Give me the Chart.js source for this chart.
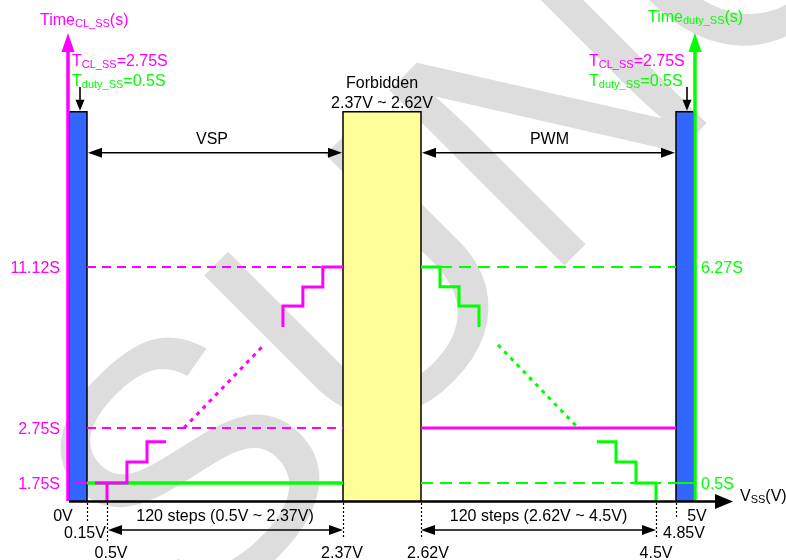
<!DOCTYPE html>
<html>
<head>
<meta charset="utf-8">
<script src="https://cdn.jsdelivr.net/npm/chart.js@4.4.1/dist/chart.umd.min.js"></script>
<style>
  html, body { margin: 0; padding: 0; background: #ffffff; }
  #wrap { width: 786px; height: 560px; }
</style>
</head>
<body>
<div id="wrap"><canvas id="c" width="786" height="560"></canvas></div>
<script>
// ---- V_SS axis (volts) ----
const vssTicks      = [0, 0.15, 0.5, 2.37, 2.62, 4.5, 4.85, 5];
const vssTickLabels = ['0V', '0.15V', '0.5V', '2.37V', '2.62V', '4.5V', '4.85V', '5V'];
const forbiddenRange = [2.37, 2.62];
const leftZone  = [0, 0.15];
const rightZone = [4.85, 5];
const zoneTop = 19;               // top of the shaded zones (Time_CL_SS units)

// ---- time levels ----
const clLevels       = [1.75, 2.75, 11.12];
const clLevelLabels  = ['1.75S', '2.75S', '11.12S'];
const dutyLevels      = [0.5, 6.27];
const dutyLevelLabels = ['0.5S', '6.27S'];
const tClSS = 2.75;
const tDutySS = 0.5;

// ---- VSP soft-start staircase (V, Time_CL_SS) ----
const vspStart     = [[0.5, 0], [0.5, 1.75]];
const vspLowSteps  = [[0.29, 1.75], [0.658, 1.75], [0.658, 2.13], [0.817, 2.13], [0.817, 2.5], [0.968, 2.5]];
const vspRise      = [[1.11, 2.75], [1.744, 7.07]];
const vspHighSteps = [[1.894, 8.0], [1.894, 9.09], [2.052, 9.09], [2.052, 10.08], [2.21, 10.08], [2.21, 11.12], [2.37, 11.12]];

// ---- PWM soft-start staircase (V, Time_duty_SS) ----
const pwmHighSteps = [[2.62, 6.27], [2.772, 6.27], [2.772, 5.74], [2.924, 5.74], [2.924, 5.23], [3.084, 5.23], [3.084, 4.67]];
const pwmFall      = [[3.236, 4.19], [3.868, 2.0]];
const pwmLowSteps  = [[4.028, 1.6], [4.18, 1.6], [4.18, 1.06], [4.34, 1.06], [4.34, 0.5], [4.5, 0.5], [4.5, 0]];

const MAGENTA = '#ff00ff';
const GREEN = '#00ff00';
const BLUE = '#3366ff';
const YELLOW = '#ffff99';
const FONT = '"Liberation Sans", Arial, Helvetica, sans-serif';

// Schematic (piecewise-linear) axes: [value, fraction of axis length]
const scaleKnots = {
  x:  [[0, 0], [0.15, 0.0288], [0.5, 0.0608], [2.37, 0.4384], [2.62, 0.5632], [4.5, 0.9392], [4.85, 0.9712], [5, 1]],
  yL: [[0, 0], [1.75, 0.0385], [2.75, 0.156], [11.12, 0.5], [23, 1]],
  yR: [[0, 0], [0.5, 0.0385], [6.27, 0.5], [12.5, 1]]
};

class PiecewiseScale extends Chart.LinearScale {
  _frac(v) {
    const k = scaleKnots[this.id];
    if (v <= k[0][0]) return k[0][1];
    for (let i = 1; i < k.length; i++) {
      if (v <= k[i][0]) {
        const [v0, f0] = k[i - 1], [v1, f1] = k[i];
        return f0 + (v - v0) / (v1 - v0) * (f1 - f0);
      }
    }
    return k[k.length - 1][1];
  }
  getPixelForValue(v) {
    const f = this._frac(v);
    return this.isHorizontal() ? this.left + f * this.width : this.bottom - f * this.height;
  }
  getValueForPixel(p) {
    const f = this.isHorizontal() ? (p - this.left) / this.width : (this.bottom - p) / this.height;
    const k = scaleKnots[this.id];
    for (let i = 1; i < k.length; i++) {
      if (f <= k[i][1]) {
        const [v0, f0] = k[i - 1], [v1, f1] = k[i];
        return v0 + (f - f0) / (f1 - f0) * (v1 - v0);
      }
    }
    return k[k.length - 1][0];
  }
}
PiecewiseScale.id = 'piecewise';
PiecewiseScale.defaults = Chart.LinearScale.defaults;
Chart.register(PiecewiseScale);

const pts = arr => arr.map(([x, y]) => ({ x, y }));
function series(data, color, axis, extra) {
  return Object.assign({
    data: pts(data), yAxisID: axis, borderColor: color, borderWidth: 3,
    pointRadius: 0, tension: 0, fill: false, clip: false, order: 1
  }, extra || {});
}
function zone(range, color) {
  return series([[range[0], 0], [range[0], zoneTop], [range[1], zoneTop], [range[1], 0]],
    '#000000', 'yL', { borderWidth: 1.5, fill: 'origin', backgroundColor: color, order: 10 });
}

const datasets = [
  zone(forbiddenRange, YELLOW),
  zone(leftZone, BLUE),
  zone(rightZone, BLUE),
  // reference levels
  series([[0.15, clLevels[2]], [2.37, clLevels[2]]], MAGENTA, 'yL', { borderWidth: 2, borderDash: [9, 6], order: 5 }),
  series([[0.15, clLevels[1]], [2.37, clLevels[1]]], MAGENTA, 'yL', { borderWidth: 2, borderDash: [9, 6], order: 5 }),
  series([[0.058, clLevels[0]], [0.15, clLevels[0]]], MAGENTA, 'yL', { borderWidth: 2, order: 5 }),
  series([[0.15, tDutySS], [2.37, tDutySS]], GREEN, 'yR', { borderWidth: 3.5, order: 4 }),
  series([[2.62, tClSS], [4.85, tClSS]], MAGENTA, 'yL', { borderWidth: 3, order: 4 }),
  series([[2.62, dutyLevels[1]], [4.85, dutyLevels[1]]], GREEN, 'yR', { borderWidth: 2, borderDash: [12, 7], order: 5 }),
  series([[2.62, dutyLevels[0]], [4.85, dutyLevels[0]]], GREEN, 'yR', { borderWidth: 2, borderDash: [12, 7], order: 5 }),
  series([[4.85, dutyLevels[0]], [5, dutyLevels[0]]], GREEN, 'yR', { borderWidth: 2, order: 5 }),
  // VSP staircase
  series(vspStart, MAGENTA, 'yL', { order: 2 }),
  series(vspLowSteps, MAGENTA, 'yL', { order: 2 }),
  series(vspRise, MAGENTA, 'yL', { borderDash: [4, 5], order: 2 }),
  series(vspHighSteps, MAGENTA, 'yL', { order: 2 }),
  // PWM staircase
  series(pwmHighSteps, GREEN, 'yR', { order: 2 }),
  series(pwmFall, GREEN, 'yR', { borderDash: [4, 5], order: 2 }),
  series(pwmLowSteps, GREEN, 'yR', { order: 2 })
];

// ---- drawing helpers ----
function head(ctx, x, y, dx, dy, len, half) {
  ctx.beginPath();
  ctx.moveTo(x, y);
  ctx.lineTo(x - dx * len - dy * half, y - dy * len + dx * half);
  ctx.lineTo(x - dx * len + dy * half, y - dy * len - dx * half);
  ctx.closePath();
  ctx.fill();
}
function hArrow(ctx, x1, x2, y, both) {
  ctx.strokeStyle = '#000'; ctx.fillStyle = '#000'; ctx.lineWidth = 1.6;
  ctx.beginPath(); ctx.moveTo(x1 + 4, y); ctx.lineTo(x2 - 4, y); ctx.stroke();
  head(ctx, x2, y, 1, 0, 14, 5);
  if (both) head(ctx, x1, y, -1, 0, 14, 5);
}
function rich(ctx, parts, x, y, color, align) {
  const main = '16px ' + FONT, sub = '11px ' + FONT;
  let w = 0;
  for (const [t, s] of parts) { ctx.font = s ? sub : main; w += ctx.measureText(t).width; }
  let cx = align === 'right' ? x - w : align === 'center' ? x - w / 2 : x;
  ctx.fillStyle = color; ctx.textAlign = 'left'; ctx.textBaseline = 'alphabetic';
  for (const [t, s] of parts) {
    ctx.font = s ? sub : main;
    ctx.fillText(t, cx, s ? y + 2 : y);
    cx += ctx.measureText(t).width;
  }
}
function text(ctx, t, x, y, color, align) { rich(ctx, [[t, false]], x, y, color, align); }

const decor = {
  id: 'decor',
  beforeDatasetsDraw(chart) {
    // background watermark
    const ctx = chart.ctx;
    ctx.save();
    ctx.translate(190, 640);
    ctx.rotate(-45 * Math.PI / 180);
    ctx.font = '360px ' + FONT;
    ctx.fillStyle = '#dddddd';
    ctx.textBaseline = 'alphabetic';
    ctx.fillText('SUNON', 0, 0);
    ctx.restore();
  },
  afterDatasetsDraw(chart) {
    const ctx = chart.ctx;
    const X = chart.scales.x, YL = chart.scales.yL, YR = chart.scales.yR;
    const base = chart.chartArea.bottom;
    const x0 = X.getPixelForValue(0), x5 = X.getPixelForValue(5);
    const top = chart.chartArea.top;
    ctx.save();

    // vertical time axes with arrows
    ctx.lineWidth = 3.5;
    ctx.strokeStyle = MAGENTA; ctx.fillStyle = MAGENTA;
    ctx.beginPath(); ctx.moveTo(x0 - 1, base); ctx.lineTo(x0 - 1, top + 18); ctx.stroke();
    head(ctx, x0 - 1, top, 0, -1, 19, 6.5);
    ctx.strokeStyle = GREEN; ctx.fillStyle = GREEN;
    ctx.beginPath(); ctx.moveTo(x5 + 1, base); ctx.lineTo(x5 + 1, top + 18); ctx.stroke();
    head(ctx, x5 + 1, top, 0, -1, 19, 6.5);

    // V_SS axis
    ctx.strokeStyle = '#000'; ctx.fillStyle = '#000'; ctx.lineWidth = 2.5;
    ctx.beginPath(); ctx.moveTo(x0, base + 0.5); ctx.lineTo(x5 + 24, base + 0.5); ctx.stroke();
    head(ctx, x5 + 39, base + 0.5, 1, 0, 18, 7.5);
    rich(ctx, [['V', false], ['SS', true], ['(V)', false]], x5 + 46, base, '#000', 'left');

    // dotted drop lines and labels under the V_SS axis
    const drop  = [0, 21, 40, 37, 37, 37, 16, 0];
    const row   = [0, 1, 2, 2, 2, 2, 1, 0];
    const shift = [-6, -2, 4, -1, 7, 0, 8, 3];
    const rowY  = [base + 20, base + 37, base + 57];
    ctx.setLineDash([2, 2]); ctx.lineWidth = 1.2; ctx.strokeStyle = '#000';
    vssTicks.forEach((v, i) => {
      if (!drop[i]) return;
      const px = Math.round(X.getPixelForValue(v)) + 0.5;
      ctx.beginPath(); ctx.moveTo(px, base + 2); ctx.lineTo(px, base + drop[i]); ctx.stroke();
    });
    ctx.setLineDash([]);
    vssTicks.forEach((v, i) => {
      text(ctx, vssTickLabels[i], X.getPixelForValue(v) + shift[i], rowY[row[i]], '#000', 'center');
    });

    // 120-step ranges
    const a1 = X.getPixelForValue(0.5), a2 = X.getPixelForValue(2.37);
    const b1 = X.getPixelForValue(2.62), b2 = X.getPixelForValue(4.5);
    hArrow(ctx, a1 + 1, a2, base + 29, true);
    hArrow(ctx, b1, b2, base + 29, true);
    text(ctx, '120 steps (0.5V ~ 2.37V)', (a1 + a2) / 2, base + 20, '#000', 'center');
    text(ctx, '120 steps (2.62V ~ 4.5V)', (b1 + b2) / 2, base + 20, '#000', 'center');

    // time level labels
    clLevels.forEach((v, i) => text(ctx, clLevelLabels[i], x0 - 9, YL.getPixelForValue(v) + 6, MAGENTA, 'right'));
    dutyLevels.forEach((v, i) => text(ctx, dutyLevelLabels[i], x5 + 7, YR.getPixelForValue(v) + 6, GREEN, 'left'));

    // region annotations
    const zt = YL.getPixelForValue(zoneTop);
    const f1 = X.getPixelForValue(forbiddenRange[0]), f2 = X.getPixelForValue(forbiddenRange[1]);
    const l2 = X.getPixelForValue(leftZone[1]), r1 = X.getPixelForValue(rightZone[0]);
    text(ctx, 'Forbidden', (f1 + f2) / 2, zt - 24, '#000', 'center');
    text(ctx, '2.37V ~ 2.62V', (f1 + f2) / 2, zt - 4, '#000', 'center');
    hArrow(ctx, l2 + 1, f1 - 1, zt + 41, true);
    hArrow(ctx, f2 + 1, r1 - 1, zt + 41, true);
    text(ctx, 'VSP', (l2 + f1) / 2 - 3, zt + 32, '#000', 'center');
    text(ctx, 'PWM', (f2 + r1) / 2 + 1, zt + 32, '#000', 'center');

    // axis titles and soft-start constants
    rich(ctx, [['Time', false], ['CL_SS', true], ['(s)', false]], x0 - 29, 25, MAGENTA, 'left');
    rich(ctx, [['Time', false], ['duty_SS', true], ['(s)', false]], x5 - 46, 22, GREEN, 'left');
    rich(ctx, [['T', false], ['CL_SS', true], ['=' + tClSS + 'S', false]], x0 + 3, 66, MAGENTA, 'left');
    rich(ctx, [['T', false], ['duty_SS', true], ['=' + tDutySS + 'S', false]], x0 + 3, 86, GREEN, 'left');
    rich(ctx, [['T', false], ['CL_SS', true], ['=' + tClSS + 'S', false]], x5 - 105, 66, MAGENTA, 'left');
    rich(ctx, [['T', false], ['duty_SS', true], ['=' + tDutySS + 'S', false]], x5 - 105, 86, GREEN, 'left');

    // pointers to the shaded zones
    ctx.strokeStyle = '#000'; ctx.fillStyle = '#000'; ctx.lineWidth = 1.6;
    const pl = x0 + 11, pr = x5 - 7;
    [pl, pr].forEach(px => {
      ctx.beginPath(); ctx.moveTo(px, 87); ctx.lineTo(px, zt - 8); ctx.stroke();
      head(ctx, px, zt - 1, 0, 1, 11, 4.5);
    });
    ctx.restore();
  }
};

new Chart(document.getElementById('c'), {
  type: 'line',
  data: { datasets },
  options: {
    responsive: false,
    animation: false,
    events: [],
    layout: { padding: { left: 69, right: 92, top: 33, bottom: 59 } },
    plugins: { legend: { display: false }, tooltip: { enabled: false } },
    scales: {
      x:  { type: 'piecewise', min: 0, max: 5, display: false },
      yL: { type: 'piecewise', position: 'left', min: 0, max: 23, display: false },
      yR: { type: 'piecewise', position: 'right', min: 0, max: 12.5, display: false }
    }
  },
  plugins: [decor]
});
</script>
</body>
</html>
